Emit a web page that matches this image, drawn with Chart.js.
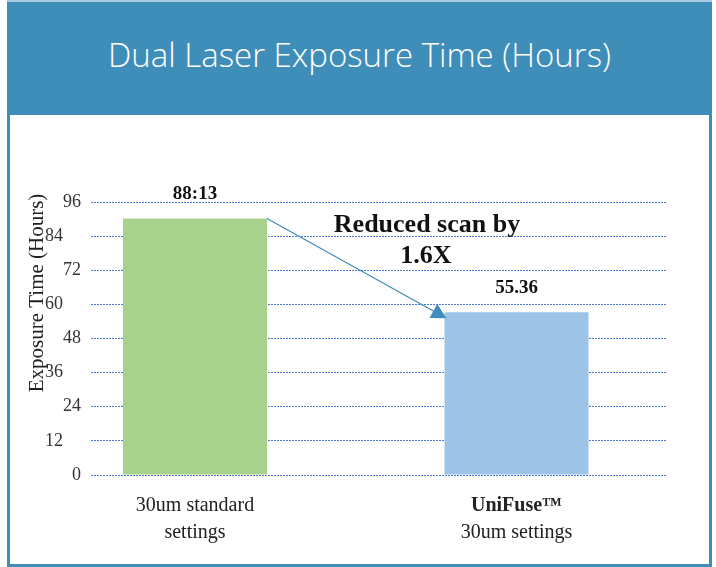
<!DOCTYPE html>
<html>
<head>
<meta charset="utf-8">
<title>Dual Laser Exposure Time</title>
<script src="https://cdn.jsdelivr.net/npm/chart.js@4.4.1/dist/chart.umd.min.js"></script>
<style>
  html, body { margin: 0; padding: 0; background: #fff; }
  #wrap { position: relative; width: 716px; height: 567px; overflow: hidden; }
  #topline { position: absolute; left: 7px; top: 0; width: 705px; height: 2px; background: #a9cce2; }
  #header {
    position: absolute; left: 7px; top: 2px; width: 705px; height: 113px;
    background: #3f8db9; color: #fff;
    font-family: 'Open Sans', sans-serif; font-size: 33px; font-weight: 300;
    text-align: center; line-height: 106px;
  }
  #frame {
    position: absolute; left: 7px; top: 115px; width: 705px; height: 452px;
    box-sizing: border-box; border: 3px solid #3f8db9; border-top: none;
  }
  #chart { position: absolute; left: 0; top: 0; }
</style>
</head>
<body>
<div id="wrap">
  <div id="topline"></div>
  <div id="header">Dual Laser Exposure Time (Hours)</div>
  <div id="frame"></div>
  <canvas id="chart" width="716" height="567"></canvas>
</div>

<script>
// ── DATA ───────────────────────────────────────────────────
const categories  = [['30um standard', 'settings'], ['UniFuse™', '30um settings']];
const boldFirst   = [false, true];
const hours       = [90.2, 57.2];
const valueLabels = ['88:13', '55.36'];
const barColors   = ['#a9d18e', '#9dc3e6'];
const yTicks      = [0, 12, 24, 36, 48, 60, 72, 84, 96];
const yTitle      = 'Exposure Time (Hours)';
const note        = ['Reduced scan by', '1.6X'];

const serif = "'Liberation Serif', 'DejaVu Serif', serif";

// ── PLUGIN: labels, arrow, axis title ──────────────────────
const extras = {
  id: 'extras',
  afterDatasetsDraw(chart) {
    const { ctx, scales } = chart;
    const bars = chart.getDatasetMeta(0).data;
    ctx.save();

    // value labels above bars
    ctx.fillStyle = '#111';
    ctx.font = 'bold 19px ' + serif;
    ctx.textAlign = 'center';
    ctx.textBaseline = 'middle';
    bars.forEach((b, i) => ctx.fillText(valueLabels[i], b.x, b.y - 24));

    // category labels under the axis
    const base = scales.y.getPixelForValue(0);
    bars.forEach((b, i) => {
      categories[i].forEach((line, j) => {
        ctx.font = (j === 0 && boldFirst[i] ? 'bold ' : '') + '20px ' + serif;
        ctx.fillStyle = '#222';
        ctx.fillText(line, b.x, base + 31 + j * 27);
      });
    });

    // arrow from first bar top-right to second bar top-left
    const a = bars[0], c = bars[1];
    const x1 = a.x + a.width / 2, y1 = a.y;
    const x2 = c.x - c.width / 2 + 2, y2 = c.y + 6;
    const ang = Math.atan2(y2 - y1, x2 - x1);
    ctx.strokeStyle = '#3f8db9';
    ctx.fillStyle = '#3f8db9';
    ctx.lineWidth = 1.3;
    ctx.beginPath();
    ctx.moveTo(x1, y1);
    ctx.lineTo(x2 - 12 * Math.cos(ang), y2 - 12 * Math.sin(ang));
    ctx.stroke();
    ctx.beginPath();
    ctx.moveTo(x2, y2);
    ctx.lineTo(x2 - 15 * Math.cos(ang) + 8 * Math.sin(ang), y2 - 15 * Math.sin(ang) - 8 * Math.cos(ang));
    ctx.lineTo(x2 - 15 * Math.cos(ang) - 8 * Math.sin(ang), y2 - 15 * Math.sin(ang) + 8 * Math.cos(ang));
    ctx.closePath();
    ctx.fill();

    // note text
    ctx.fillStyle = '#111';
    ctx.font = 'bold 26px ' + serif;
    ctx.fillText(note[0], 427, 225);
    ctx.fillText(note[1], 426, 256);

    // rotated y title (overlaps tick labels as in the original)
    ctx.translate(37, 293);
    ctx.rotate(-Math.PI / 2);
    ctx.font = '21px ' + serif;
    ctx.fillStyle = '#222';
    ctx.fillText(yTitle, 0, 0);
    ctx.restore();
  }
};

new Chart(document.getElementById('chart'), {
  type: 'bar',
  data: {
    datasets: [{
      data: hours.map((v, i) => ({ x: i, y: v })),
      backgroundColor: barColors,
      borderWidth: 0,
      barPercentage: 1,
      categoryPercentage: 0.448,
    }],
  },
  options: {
    responsive: false,
    animation: false,
    devicePixelRatio: 1,
    layout: { padding: { left: 0, right: 50, top: 202, bottom: 92 } },
    plugins: { legend: { display: false }, tooltip: { enabled: false } },
    scales: {
      x: {
        type: 'linear',
        display: false,
        offset: false,
        min: -0.3235,
        max: 1.465,
        afterBuildTicks: s => { s.ticks = hours.map((v, i) => ({ value: i })); },
      },
      y: {
        min: 0,
        max: 96,
        afterFit: s => { s.width = 91; },
        afterBuildTicks: s => { s.ticks = yTicks.map(v => ({ value: v })); },
        border: { display: false, dash: [2, 1] },
        grid: {
          color: '#4d78d4',
          lineWidth: 1,
          drawTicks: false,
        },
        ticks: {
          padding: 10,
          color: '#333',
          font: { family: serif, size: 18 },
          // every other label sits further left in the original
          callback: (v, i) => i % 2 ? v + '\u2002\u2002' : String(v),
        },
      },
    },
  },
  plugins: [extras],
});
</script>
</body>
</html>
